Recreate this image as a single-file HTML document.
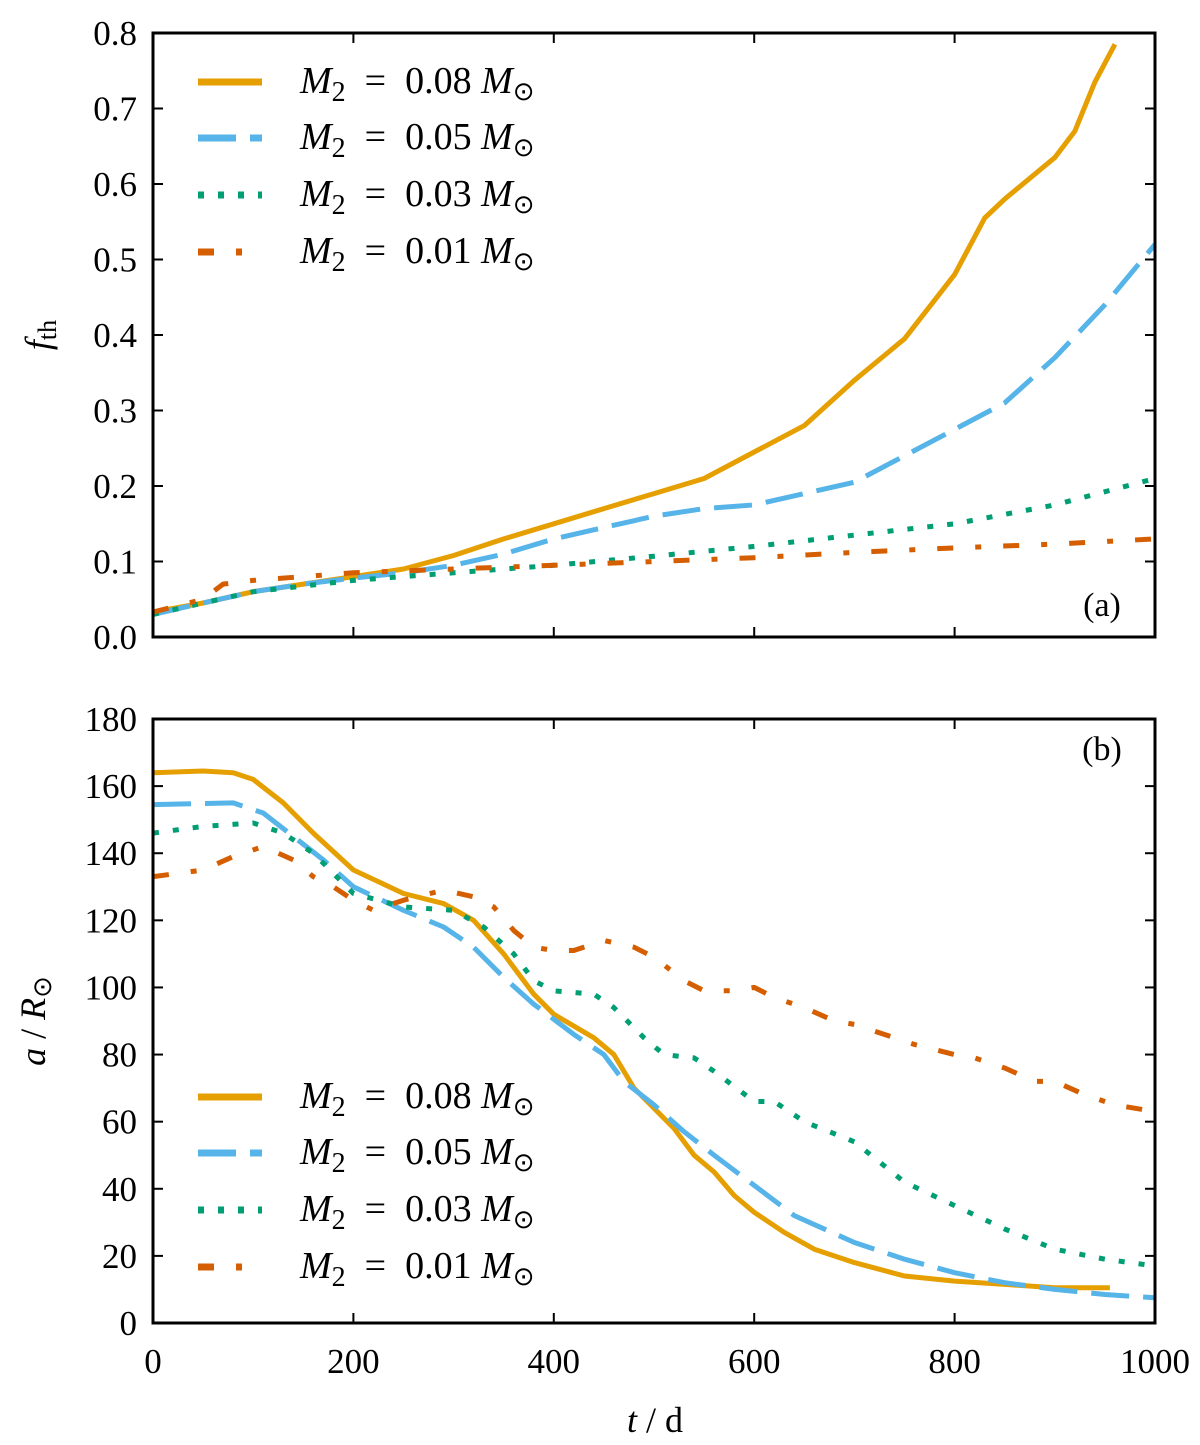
<!DOCTYPE html>
<html><head><meta charset="utf-8"><style>
body{margin:0;background:#fff}
svg{display:block;font-family:"Liberation Serif",serif}
</style></head><body>
<svg id="c" width="1200" height="1445" viewBox="0 0 1200 1445"></svg>
<script>
const seriesNames=["M2 = 0.08","M2 = 0.05","M2 = 0.03","M2 = 0.01"];
const legendMass=["0.08","0.05","0.03","0.01"];
const colors=["#E69F00","#56B4E9","#009E73","#D55E00"];
const dashes=["none","38 14","6 14","16 22 6 22"];
const xTicks=[0,200,400,600,800,1000];
const fTicks=[0,0.1,0.2,0.3,0.4,0.5,0.6,0.7,0.8];
const aTicks=[0,20,40,60,80,100,120,140,160,180];
const f08t=[0,50,100,150,200,250,300,350,400,450,500,550,600,650,700,750,800,830,850,900,920,940,960];
const f08v=[0.033,0.045,0.06,0.07,0.08,0.09,0.108,0.13,0.15,0.17,0.19,0.21,0.245,0.28,0.34,0.395,0.48,0.555,0.58,0.635,0.67,0.735,0.785];
const f05t=[0,50,100,150,200,250,300,350,400,450,500,550,600,650,700,750,800,850,900,950,1000];
const f05v=[0.03,0.045,0.06,0.07,0.078,0.085,0.095,0.11,0.13,0.145,0.16,0.17,0.175,0.19,0.205,0.24,0.275,0.31,0.37,0.44,0.52];
const f03t=[0,100,200,300,400,500,600,700,800,900,1000];
const f03v=[0.03,0.06,0.075,0.085,0.095,0.107,0.12,0.135,0.15,0.175,0.21];
const f01t=[0,50,70,100,150,200,300,400,500,600,700,800,900,1000];
const f01v=[0.033,0.05,0.07,0.075,0.08,0.085,0.09,0.095,0.1,0.105,0.112,0.118,0.123,0.13];
const a08t=[0,50,80,100,130,160,200,250,290,320,350,380,400,440,460,480,520,540,560,580,600,630,660,700,750,800,850,900,955];
const a08v=[164,164.5,164,162,155,146,135,128,125,120,110,98,92,85,80,70,58,50,45,38,33,27,22,18,14,12.5,11.5,10.5,10.5];
const a05t=[0,80,110,140,170,200,250,290,320,350,380,420,450,470,500,530,560,600,640,700,750,800,850,900,950,1000];
const a05v=[154.5,155,152,145,138,130,123,118,112,103,95,86,80,72,65,57,50,41,32,24,19,15,12,10,8.5,7.5];
const a03t=[0,50,100,130,160,200,250,300,330,360,380,400,440,460,490,510,540,560,600,620,650,700,750,800,850,900,950,1000];
const a03v=[146,148,149,146,140,128,124,123,118,110,102,99,98,94,85,80,79,75,66,66,60,54,42,35,28,22,19,17];
const a01t=[0,50,80,110,140,160,180,200,220,250,290,320,340,360,380,400,420,450,480,500,530,550,580,600,620,650,680,700,720,760,800,820,850,880,900,930,960,1000];
const a01v=[133,135,139,142,138,133,130,126,123,126,129,127,124,117,112,111,111,114,112,109,102,99,99,100,97,94,90,89,87,83,80,79,76,72,72,68,65,63];

const NS="http://www.w3.org/2000/svg";
const svg=document.getElementById('c');
function el(tag,attrs,parent){const e=document.createElementNS(NS,tag);for(const k in attrs)e.setAttribute(k,attrs[k]);(parent||svg).appendChild(e);return e;}
const X0=153,X1=1155;
const xs=t=>X0+(X1-X0)*t/1000;
const panels=[
 {y0:637,y1:33,max:0.8,ticks:fTicks,fmt:v=>v.toFixed(1),data:[[f08t,f08v],[f05t,f05v],[f03t,f03v],[f01t,f01v]],label:"(a)",lx:1102,ly:616,leg:[82,138,195,252],name:"panel-a"},
 {y0:1323,y1:719,max:180,ticks:aTicks,fmt:v=>String(v),data:[[a08t,a08v],[a05t,a05v],[a03t,a03v],[a01t,a01v]],label:"(b)",lx:1102,ly:760,leg:[1097,1153,1210,1267],name:"panel-b"}
];
panels.forEach((p,pi)=>{
 const g=el('g',{});
 
 
 const ys=v=>p.y0+(p.y1-p.y0)*v/p.max;
 const cp=el('clipPath',{id:'cp'+pi},g);el('rect',{x:X0,y:p.y1,width:X1-X0,height:p.y0-p.y1},cp);
 p.data.forEach((d,i)=>{
  const pts=d[0].map((t,j)=>xs(t).toFixed(1)+','+ys(d[1][j]).toFixed(1)).join(' ');
  const l=el('polyline',{points:pts,fill:'none',stroke:colors[i],'stroke-width':5,'stroke-dasharray':dashes[i],'stroke-linejoin':'round','clip-path':'url(#cp'+pi+')'},g);
  
  
 });
 el('rect',{x:X0,y:p.y1,width:X1-X0,height:p.y0-p.y1,fill:'none',stroke:'#000','stroke-width':3},g);
 p.ticks.forEach(v=>{
  const y=ys(v);
  el('line',{x1:X0,x2:X0+10,y1:y,y2:y,stroke:'#000','stroke-width':2},g);
  el('line',{x1:X1-10,x2:X1,y1:y,y2:y,stroke:'#000','stroke-width':2},g);
  const t=el('text',{x:X0-16,y:y+12,'text-anchor':'end','font-size':35},g);t.textContent=p.fmt(v);
  
  
 });
 xTicks.forEach(v=>{
  const x=xs(v);
  el('line',{x1:x,x2:x,y1:p.y0,y2:p.y0-10,stroke:'#000','stroke-width':2},g);
  el('line',{x1:x,x2:x,y1:p.y1,y2:p.y1+10,stroke:'#000','stroke-width':2},g);
  if(pi==1){const t=el('text',{x:x,y:1373,'text-anchor':'middle','font-size':35},g);t.textContent=v;
  
  }
 });
 const lb=el('text',{x:p.lx,y:p.ly,'text-anchor':'middle','font-size':34},g);lb.textContent=p.label;
 
 
 p.leg.forEach((y,i)=>{
  const lg=el('g',{},g);
  
  
  el('line',{x1:198,x2:262,y1:y,y2:y,stroke:colors[i],'stroke-width':7,'stroke-dasharray':dashes[i]},lg);
  const t=el('text',{x:300,y:y+11,'font-size':38},lg);
  t.innerHTML='<tspan font-style="italic">M</tspan><tspan font-size="28" dy="8">2</tspan><tspan dy="-8" xml:space="preserve">  =  '+legendMass[i]+' </tspan><tspan font-style="italic">M</tspan><tspan font-size="26" dy="7">⊙</tspan>';
 });
});
let t=el('text',{x:655,y:1432,'text-anchor':'middle','font-size':36});
t.innerHTML='<tspan font-style="italic">t</tspan> / d';


t=el('text',{transform:'translate(50,335) rotate(-90)','text-anchor':'middle','font-size':36});
t.innerHTML='<tspan font-style="italic">f</tspan><tspan font-size="26" dy="6">th</tspan>';


t=el('text',{transform:'translate(45,1021) rotate(-90)','text-anchor':'middle','font-size':36});
t.innerHTML='<tspan font-style="italic">a</tspan> / <tspan font-style="italic">R</tspan><tspan font-size="26" dy="6">⊙</tspan>';


</script>
</body></html>
